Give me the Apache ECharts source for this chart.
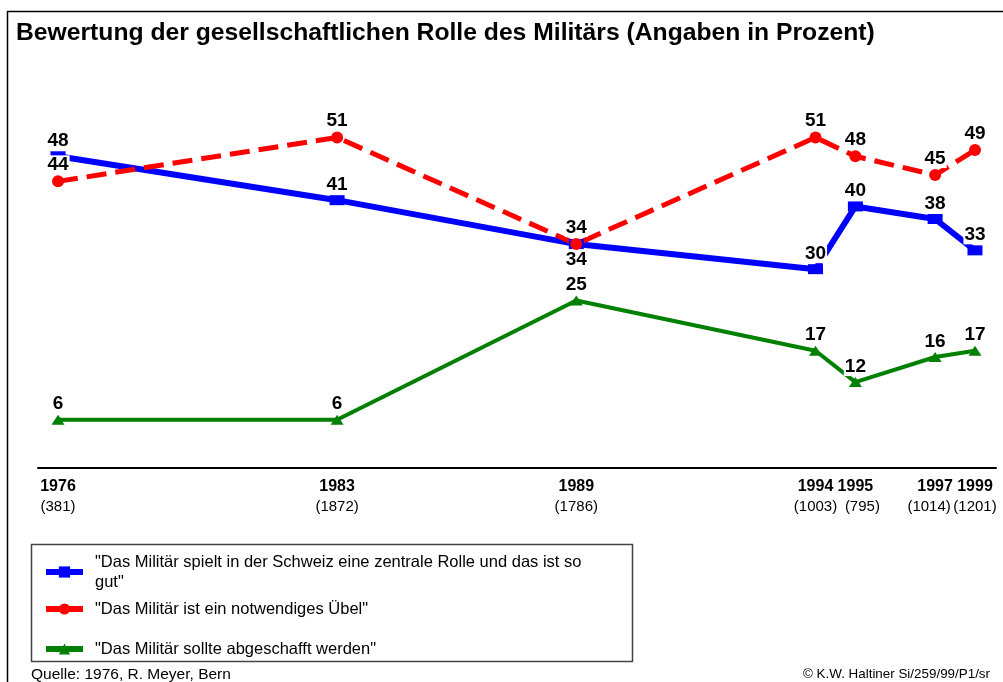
<!DOCTYPE html>
<html>
<head>
<meta charset="utf-8">
<script src="https://cdn.jsdelivr.net/npm/echarts@6/dist/echarts.min.js"></script>
<style>
  html, body { margin: 0; padding: 0; background: #fff; }
  #chart { width: 1003px; height: 682px; }
</style>
</head>
<body>
<div id="chart"></div>
<script>
// Survey years, sample sizes and their place on the time scale
const yearLabels = ['1976', '1983', '1989', '1994', '1995', '1997', '1999'];
const sampleSizes = ['(381)', '(1872)', '(1786)', '(1003)', '(795)', '(1014)', '(1201)'];
const surveyPos = [1976, 1983, 1989, 1995, 1996, 1998, 1999];

// Answers in percent
const seriesNames = [
  '"Das Militär spielt in der Schweiz eine zentrale Rolle und das ist so gut"',
  '"Das Militär ist ein notwendiges Übel"',
  '"Das Militär sollte abgeschafft werden"'
];
const legendText = [
  '"Das Militär spielt in der Schweiz eine zentrale Rolle und das ist so\ngut"',
  '"Das Militär ist ein notwendiges Übel"',
  '"Das Militär sollte abgeschafft werden"'
];
const zentral = [48, 41, 34, 30, 40, 38, 33];
const uebel = [44, 51, 34, 51, 48, 45, 49];
const abschaffen = [6, 6, 25, 17, 12, 16, 17];

const FONT = '"Liberation Sans", Arial, sans-serif';

function pairs(vals) {
  return vals.map((v, i) => [surveyPos[i], v]);
}

// The two closely spaced survey labels at the right end would trip the
// automatic end-label overlap check, so the label positions are listed with
// the widely spaced ones at both ends of the list.
const labelOrder = [0, 1, 2, 3, 5, 6, 4].map(function (i) { return surveyPos[i]; });

// Rich-text style used for each sample size, so neighbouring ones keep apart
const sampleStyle = ['n', 'n', 'n', 'n', 'nr', 'nl', 'n'];

const labelBase = {
  show: true,
  position: 'top',
  distance: 1,
  fontFamily: FONT,
  fontWeight: 'bold',
  fontSize: 19,
  lineHeight: 19,
  color: '#000',
  backgroundColor: '#fff',
  padding: [0, 1, 0, 1]
};

const sampleFont = { fontFamily: FONT, fontSize: 15, color: '#000', lineHeight: 19 };

const chart = echarts.init(document.getElementById('chart'), null, { renderer: 'canvas' });

chart.setOption({
  animation: false,
  backgroundColor: '#fff',
  title: {
    text: 'Bewertung der gesellschaftlichen Rolle des Militärs (Angaben in Prozent)',
    left: 16,
    top: 21,
    padding: 0,
    textStyle: { fontFamily: FONT, fontWeight: 'bold', fontSize: 24.7, color: '#000' }
  },
  grid: { left: 38, right: 7, top: 81, bottom: 214, containLabel: false },
  xAxis: {
    type: 'value',
    min: 1975.498,
    max: 1999.527,
    axisLine: { show: true, onZero: false, lineStyle: { color: '#000', width: 2 } },
    axisTick: { show: false },
    splitLine: { show: false },
    axisLabel: {
      customValues: labelOrder,
      showMinLabel: true,
      showMaxLabel: true,
      hideOverlap: false,
      margin: 9,
      formatter: function (v) {
        const i = surveyPos.indexOf(v);
        return '{y|' + yearLabels[i] + '}\n{' + sampleStyle[i] + '|' + sampleSizes[i] + '}';
      },
      rich: {
        y: { fontFamily: FONT, fontWeight: 'bold', fontSize: 16, color: '#000', lineHeight: 20 },
        n: sampleFont,
        nr: Object.assign({ padding: [0, 0, 0, 14] }, sampleFont),
        nl: Object.assign({ padding: [0, 12, 0, 0] }, sampleFont)
      }
    }
  },
  yAxis: {
    type: 'value',
    min: -1.7,
    max: 60,
    show: false
  },
  legend: [0, 1, 2].map(function (k) {
    return {
      data: [seriesNames[k]],
      left: 43,
      top: [552, 599, 639][k],
      padding: 0,
      itemWidth: 37,
      itemHeight: 14,
      lineStyle: { type: 'solid', width: 6 },
      formatter: function () { return legendText[k]; },
      textStyle: { fontFamily: FONT, fontSize: 16.5, color: '#000', lineHeight: 20, padding: [0, 0, 0, 7] }
    };
  }),
  graphic: [
    {
      type: 'polyline',
      shape: { points: [[7.5, 682], [7.5, 11.5], [1003, 11.5]] },
      style: { stroke: '#000', lineWidth: 1.5, fill: null },
      silent: true
    },
    {
      type: 'rect',
      shape: { x: 31.5, y: 544.5, width: 601, height: 117 },
      style: { stroke: '#444', lineWidth: 1.5, fill: null },
      silent: true,
      z: -1
    },
    {
      type: 'text',
      left: 31,
      top: 667,
      style: { text: 'Quelle: 1976, R. Meyer, Bern', font: '15.5px ' + FONT, fill: '#000' }
    },
    {
      type: 'text',
      right: 13,
      top: 668,
      style: { text: '© K.W. Haltiner Si/259/99/P1/sr', font: '13.4px ' + FONT, fill: '#000' }
    }
  ],
  series: [
    {
      name: seriesNames[2],
      type: 'line',
      data: pairs(abschaffen),
      symbol: 'triangle',
      symbolSize: [13, 10],
      lineStyle: { color: '#008000', width: 4 },
      itemStyle: { color: '#008000' },
      label: labelBase
    },
    {
      name: seriesNames[0],
      type: 'line',
      data: pairs(zentral).map(function (p, i) {
        return i === 2 ? { value: p, label: { position: 'bottom' } } : p;
      }),
      symbol: 'rect',
      symbolSize: [15, 10],
      lineStyle: { color: '#0000ff', width: 6 },
      itemStyle: { color: '#0000ff' },
      label: labelBase
    },
    {
      name: seriesNames[1],
      type: 'line',
      data: pairs(uebel),
      symbol: 'circle',
      symbolSize: 12,
      lineStyle: { color: '#ff0000', width: 5, type: [20, 9] },
      itemStyle: { color: '#ff0000' },
      label: labelBase
    }
  ]
});
</script>
</body>
</html>
